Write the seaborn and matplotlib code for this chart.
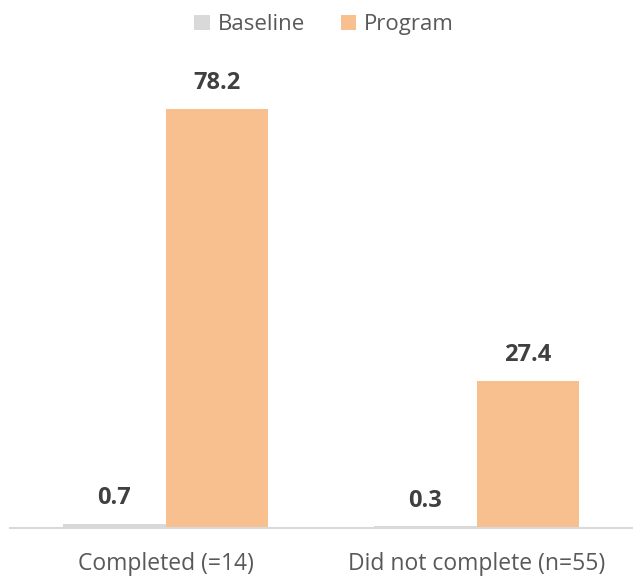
import matplotlib
matplotlib.use("Agg")
import matplotlib.pyplot as plt
import seaborn as sns
import pandas as pd

categories = ["Completed (=14)", "Did not complete (n=55)"]
series_names = ["Baseline", "Program"]
baseline_values = [0.7, 0.3]
program_values = [78.2, 27.4]
colors = ["#d9d9d9", "#f8c08f"]

df = pd.DataFrame({
    "category": categories * 2,
    "series": [series_names[0]] * 2 + [series_names[1]] * 2,
    "value": baseline_values + program_values,
})

sns.set_theme(style="white")
plt.rcParams["font.family"] = ["Open Sans", "DejaVu Sans"]

fig = plt.figure(figsize=(6.34, 5.76), dpi=100)
ax = fig.add_axes([10 / 634, 48 / 576, 622 / 634, 468 / 576])

sns.barplot(data=df, x="category", y="value", hue="series",
            palette=colors, width=0.66, gap=0, ax=ax, legend=True,
            saturation=1, linewidth=0, edgecolor="none")

ax.set_xlim(-0.5, 1.5)
ax.set_ylim(0, 87.3)
ax.set_xlabel("")
ax.set_ylabel("")
ax.set_yticks([])
for side in ["top", "right", "left"]:
    ax.spines[side].set_visible(False)
ax.spines["bottom"].set_color("#d9d9d9")
ax.spines["bottom"].set_linewidth(1.5)
ax.tick_params(axis="x", length=0, pad=17, labelsize=16.5, labelcolor="#595959")

for container in ax.containers:
    ax.bar_label(container, fmt="%.1f", padding=10, fontsize=17,
                 fontweight="bold", color="#404040")

handles, labels = ax.get_legend_handles_labels()
ax.legend(handles, labels, loc="upper center", bbox_to_anchor=(0.505, 1.14),
          ncol=2, frameon=False, fontsize=16, labelcolor="#595959",
          handlelength=0.7, handleheight=0.7, handletextpad=0.35,
          columnspacing=1.6)

fig.savefig("out.png", dpi=100)
